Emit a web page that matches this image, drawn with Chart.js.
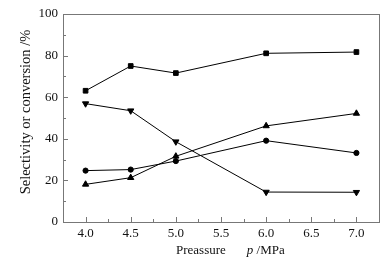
<!DOCTYPE html>
<html>
<head>
<meta charset="utf-8">
<script src="https://cdn.jsdelivr.net/npm/chart.js@4"></script>
<style>
  html, body { margin: 0; padding: 0; background: #fff; }
  #wrap { width: 387px; height: 265px; }
</style>
</head>
<body>
<div id="wrap"><canvas id="chart" width="387" height="265"></canvas></div>
<script>
// pressure, MPa
const pressure = [4.0, 4.5, 5.0, 6.0, 7.0];
const squares = [63.1, 75.0, 71.6, 81.1, 81.7];
const trianglesDown = [56.9, 53.5, 38.6, 14.4, 14.3];
const trianglesUp = [18.1, 21.3, 31.6, 46.2, 52.2];
const circles = [24.7, 25.2, 29.3, 39.1, 33.2];

const xTicks = [4.0, 4.5, 5.0, 5.5, 6.0, 6.5, 7.0];
const xMinor = [4.25, 4.75, 5.25, 5.75, 6.25, 6.75];
const yTicks = [0, 20, 40, 60, 80, 100];
const yMinor = [10, 30, 50, 70, 90];

const serif = '"Liberation Serif", "Times New Roman", serif';

function pts(ys) {
  return pressure.map((p, i) => ({ x: p, y: ys[i] }));
}

function series(ys, style, size, rot) {
  return {
    data: pts(ys),
    showLine: true,
    borderColor: "#000",
    backgroundColor: "#000",
    borderWidth: 1,
    pointStyle: style,
    pointRadius: size,
    pointRotation: rot || 0,
    pointBorderWidth: 1,
    tension: 0,
  };
}

// frame, inward ticks and axis titles
const decor = {
  id: "decor",
  afterDraw(chart) {
    const ctx = chart.ctx;
    const a = chart.chartArea;
    const sx = chart.scales.x;
    const sy = chart.scales.y;
    ctx.save();
    ctx.strokeStyle = "#777";
    ctx.lineWidth = 1;
    ctx.strokeRect(Math.round(a.left) + 0.5, Math.round(a.top) + 0.5,
      Math.round(a.right - a.left), Math.round(a.bottom - a.top));

    ctx.beginPath();
    yTicks.forEach(v => {
      const py = Math.round(sy.getPixelForValue(v)) + 0.5;
      ctx.moveTo(a.left, py); ctx.lineTo(a.left + 5, py);
    });
    yMinor.forEach(v => {
      const py = Math.round(sy.getPixelForValue(v)) + 0.5;
      ctx.moveTo(a.left, py); ctx.lineTo(a.left + 3, py);
    });
    xTicks.forEach(v => {
      const px = Math.round(sx.getPixelForValue(v)) + 0.5;
      ctx.moveTo(px, a.bottom); ctx.lineTo(px, a.bottom - 5);
    });
    xMinor.forEach(v => {
      const px = Math.round(sx.getPixelForValue(v)) + 0.5;
      ctx.moveTo(px, a.bottom); ctx.lineTo(px, a.bottom - 3);
    });
    ctx.stroke();

    // x title: Preassure    p /MPa
    ctx.fillStyle = "#111";
    ctx.textBaseline = "alphabetic";
    ctx.textAlign = "left";
    let x = a.left + 113;
    const base = 254;
    ctx.font = "13px " + serif;
    ctx.fillText("Preassure", x, base);
    x += ctx.measureText("Preassure").width + 21;
    ctx.font = "italic 13px " + serif;
    ctx.fillText("p", x, base);
    x += ctx.measureText("p").width;
    ctx.font = "13px " + serif;
    ctx.fillText(" /MPa", x, base);

    // y title
    ctx.font = "14.5px " + serif;
    ctx.translate(26, 112);
    ctx.rotate(-Math.PI / 2);
    ctx.textAlign = "center";
    ctx.textBaseline = "middle";
    ctx.fillText("Selectivity or conversion /%", 0, 0);
    ctx.restore();
  }
};

new Chart(document.getElementById("chart"), {
  type: "scatter",
  data: {
    datasets: [
      series(squares, "rect", 3.3),
      series(trianglesDown, "triangle", 3.6, 180),
      series(trianglesUp, "triangle", 3.6),
      series(circles, "circle", 2.6),
    ],
  },
  options: {
    responsive: false,
    animation: false,
    layout: { padding: { top: 14, right: 8, left: 0, bottom: 0 } },
    plugins: { legend: { display: false }, tooltip: { enabled: false } },
    scales: {
      x: {
        type: "linear",
        min: 3.75,
        max: 7.25,
        afterBuildTicks: s => { s.ticks = xTicks.map(v => ({ value: v })); },
        afterFit: s => { s.height = 43; },
        grid: { display: false, drawTicks: false },
        border: { display: false },
        ticks: {
          padding: 4,
          color: "#111",
          font: { family: serif, size: 13 },
          callback: v => Number(v).toFixed(1),
        },
      },
      y: {
        min: 0,
        max: 100,
        afterBuildTicks: s => { s.ticks = yTicks.map(v => ({ value: v })); },
        afterFit: s => { s.width = 63; },
        grid: { display: false, drawTicks: false },
        border: { display: false },
        ticks: {
          padding: 5,
          color: "#111",
          font: { family: serif, size: 13 },
        },
      },
    },
  },
  plugins: [decor],
});
</script>
</body>
</html>
